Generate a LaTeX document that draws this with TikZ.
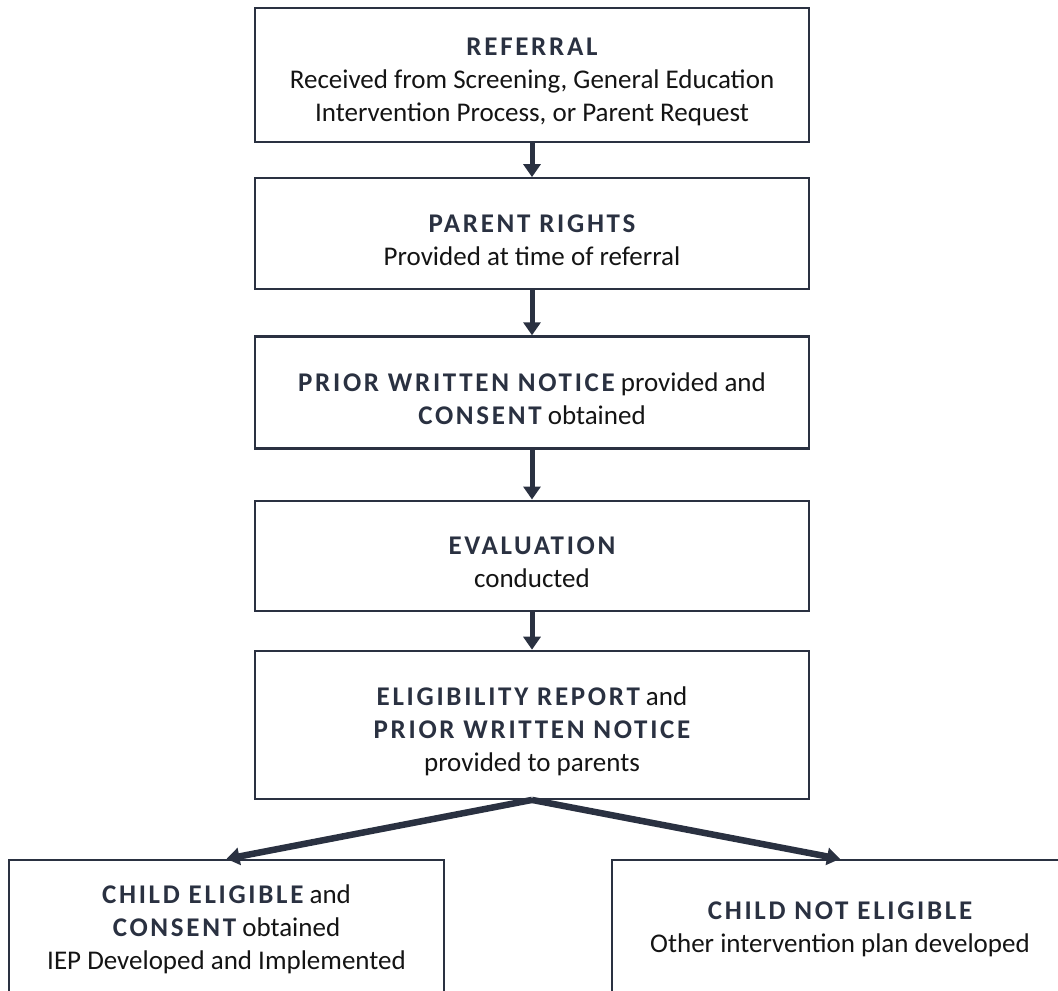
\documentclass[tikz,border=0pt]{standalone}
\usepackage{fontspec}
\setmainfont{Carlito}
\newfontfamily\headfont[LetterSpace=10]{Carlito}
\usetikzlibrary{positioning}
\usetikzlibrary{arrows.meta}
\definecolor{navy}{HTML}{2A3141}
\definecolor{ink}{HTML}{141414}
\newcommand{\hd}[1]{{\headfont\bfseries\color{navy}#1}}
\newcommand{\hdtop}[1]{\rule{0pt}{31pt}\hd{#1}}
\begin{document}
\begin{tikzpicture}[x=1pt,y=-1pt,->,>={Triangle[width=17pt,length=13pt]},
		line width=5pt,draw=navy,node distance=40pt]
		\tikzstyle{stage}=[draw=navy,line width=2.2pt,rectangle,align=center,inner sep=0pt,
		text=ink,font=\fontsize{27}{33}\selectfont,minimum width=554pt]
		\tikzstyle{branch}=[stage,minimum width=435pt,minimum height=138pt]
		\useasboundingbox (0,0) rectangle (1058,991);
		
		\node[stage,minimum height=134pt]  (referral)  at (532,75)          {\hdtop{REFERRAL}\\Received from Screening, General Education\\Intervention Process, or Parent Request};
		\node[stage,minimum height=111pt]  (rights)    [below=34pt of referral]   {\hdtop{PARENT RIGHTS}\\Provided at time of referral};
		\node[stage,minimum height=112pt]  (consent)   [below=45pt of rights]     {\hdtop{PRIOR WRITTEN NOTICE} provided and\\\hd{CONSENT} obtained};
		\node[stage,minimum height=110pt]  (evaluation) [below=50pt of consent]   {\hdtop{EVALUATION}\\conducted};
		\node[stage,minimum height=148pt]  (report)    [below=38pt of evaluation] {\hdtop{ELIGIBILITY REPORT} and\\\hd{PRIOR WRITTEN NOTICE}\\provided to parents};
		\node[branch]     (eligible)    [below=59pt of report,xshift=-305.5pt]  {\hd{CHILD ELIGIBLE} and\\\hd{CONSENT} obtained\\IEP Developed and Implemented};
		\node[branch,minimum width=456pt] (noteligible) [below=59pt of report,xshift=308pt] {\hd{CHILD NOT ELIGIBLE}\\Other intervention plan developed};
		
		\path (referral)   edge   (rights)
		(rights)     edge   (consent)
		(consent)    edge   (evaluation)
		(evaluation) edge   (report)
		(report.south) edge [line width=6.5pt] (eligible.north)
		(report.south) edge [line width=6.5pt] (noteligible.north)
		;
		\end{tikzpicture}
\end{document}
